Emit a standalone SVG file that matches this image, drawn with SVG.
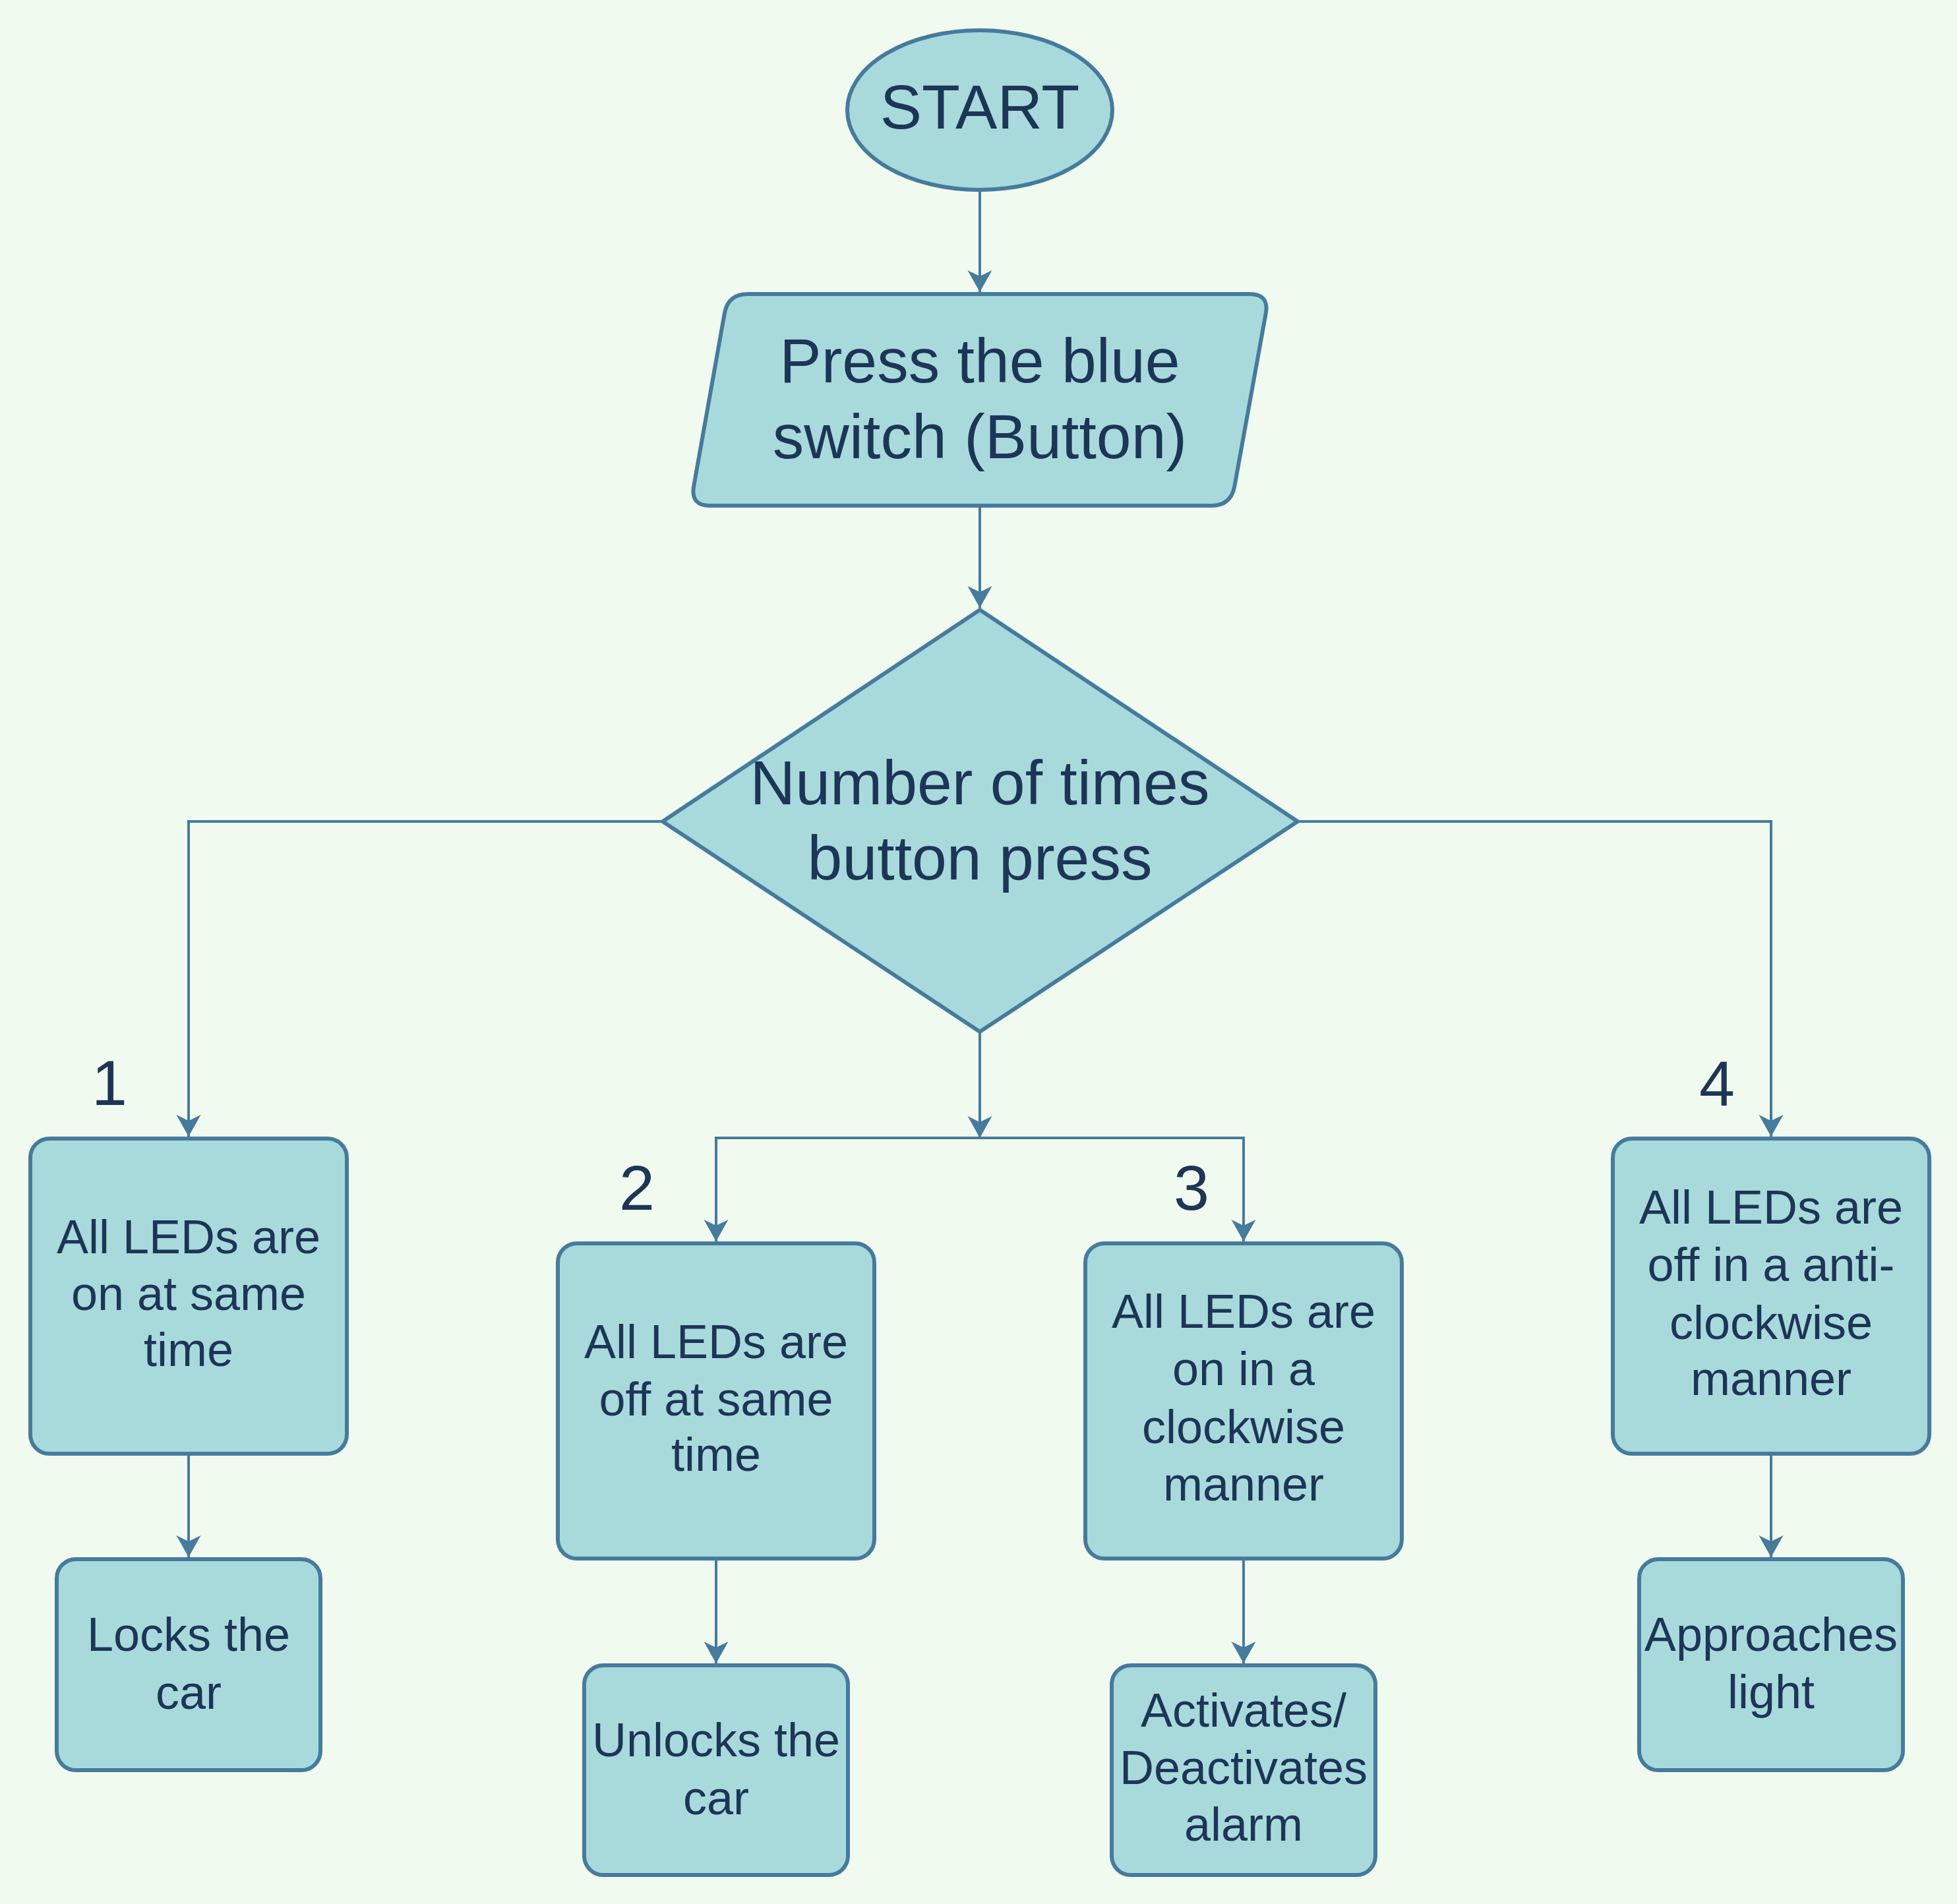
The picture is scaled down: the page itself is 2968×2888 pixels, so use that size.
<svg xmlns="http://www.w3.org/2000/svg" width="2968" height="2888" viewBox="0 0 2968 2888">
<defs>
<style>
.node{fill:#A8DADC;stroke:#457B9D;stroke-width:6}
.edge{fill:none;stroke:#457B9D;stroke-width:4}
text{font-family:"Liberation Sans",Arial,sans-serif;fill:#1D3557;text-anchor:middle}
.big{font-size:95px}
.box{font-size:72px}
.num{font-size:97px}
</style>
<marker id="arr" markerUnits="userSpaceOnUse" viewBox="-36 -20 38 40" refX="0" refY="0" markerWidth="38" markerHeight="40" orient="auto">
<path d="M0,0 L-33,-18.5 L-24,0 L-33,18.5 Z" fill="#457B9D"/>
</marker>
</defs>
<rect width="2968" height="2888" fill="#F1FAEE"/>
<g id="connectors">
<path class="edge" d="M1486,291 L1486,443" marker-end="url(#arr)"/>
<path class="edge" d="M1486,770 L1486,922" marker-end="url(#arr)"/>
<path class="edge" d="M1005,1246 L286,1246 L286,1724" marker-end="url(#arr)"/>
<path class="edge" d="M1968,1246 L2686,1246 L2686,1724" marker-end="url(#arr)"/>
<path class="edge" d="M1486,1565 L1486,1726" marker-end="url(#arr)"/>
<path class="edge" d="M1086,1883 L1086,1726 L1886,1726 L1886,1883"/>
<path class="edge" d="M1086,1760 L1086,1883" marker-end="url(#arr)"/>
<path class="edge" d="M1886,1760 L1886,1883" marker-end="url(#arr)"/>
<path class="edge" d="M286,2208 L286,2362" marker-end="url(#arr)"/>
<path class="edge" d="M1086,2367 L1086,2523" marker-end="url(#arr)"/>
<path class="edge" d="M1886,2367 L1886,2523" marker-end="url(#arr)"/>
<path class="edge" d="M2686,2208 L2686,2362" marker-end="url(#arr)"/>
</g>
<g id="start">
<ellipse class="node" cx="1486" cy="167" rx="201" ry="121"/>
<text class="big" x="1486" y="195">START</text>
</g>
<g id="press">
<path class="node" d="M1134,446 L1895,446 Q1925,446 1919.7,475.5 L1872.3,737.5 Q1867,767 1837,767 L1077,767 Q1047,767 1052.2,737.5 L1098.8,475.5 Q1104,446 1134,446 Z"/>
<text class="big" x="1486" y="580">Press the blue</text>
<text class="big" x="1486" y="695">switch (Button)</text>
</g>
<g id="decision">
<polygon class="node" points="1486,925 1968,1246 1486,1565 1005,1246"/>
<text class="big" x="1486" y="1220">Number of times</text>
<text class="big" x="1486" y="1334">button press</text>
</g>
<g id="label1"><text class="num" x="166" y="1676">1</text></g>
<g id="label2"><text class="num" x="966" y="1835">2</text></g>
<g id="label3"><text class="num" x="1807" y="1835">3</text></g>
<g id="label4"><text class="num" x="2604" y="1677">4</text></g>
<g id="box1">
<rect class="node" x="46" y="1727" width="480" height="478" rx="29"/>
<text class="box" x="286" y="1901">All LEDs are</text>
<text class="box" x="286" y="1987">on at same</text>
<text class="box" x="286" y="2072">time</text>
</g>
<g id="box2">
<rect class="node" x="846" y="1886" width="480" height="478" rx="29"/>
<text class="box" x="1086" y="2060">All LEDs are</text>
<text class="box" x="1086" y="2147">off at same</text>
<text class="box" x="1086" y="2231">time</text>
</g>
<g id="box3">
<rect class="node" x="1646" y="1886" width="480" height="478" rx="29"/>
<text class="box" x="1886" y="2014">All LEDs are</text>
<text class="box" x="1886" y="2101">on in a</text>
<text class="box" x="1886" y="2189">clockwise</text>
<text class="box" x="1886" y="2276">manner</text>
</g>
<g id="box4">
<rect class="node" x="2446" y="1727" width="480" height="478" rx="29"/>
<text class="box" x="2686" y="1856">All LEDs are</text>
<text class="box" x="2686" y="1943">off in a anti-</text>
<text class="box" x="2686" y="2031">clockwise</text>
<text class="box" x="2686" y="2116">manner</text>
</g>
<g id="locks">
<rect class="node" x="86" y="2365" width="400" height="320" rx="29"/>
<text class="box" x="286" y="2504">Locks the</text>
<text class="box" x="286" y="2592">car</text>
</g>
<g id="unlocks">
<rect class="node" x="886" y="2526" width="400" height="318" rx="29"/>
<text class="box" x="1086" y="2664">Unlocks the</text>
<text class="box" x="1086" y="2752">car</text>
</g>
<g id="alarm">
<rect class="node" x="1686" y="2526" width="400" height="318" rx="29"/>
<text class="box" x="1886" y="2619">Activates/</text>
<text class="box" x="1886" y="2706">Deactivates</text>
<text class="box" x="1886" y="2792">alarm</text>
</g>
<g id="light">
<rect class="node" x="2486" y="2365" width="400" height="320" rx="29"/>
<text class="box" x="2686" y="2504">Approaches</text>
<text class="box" x="2686" y="2591">light</text>
</g>
</svg>
